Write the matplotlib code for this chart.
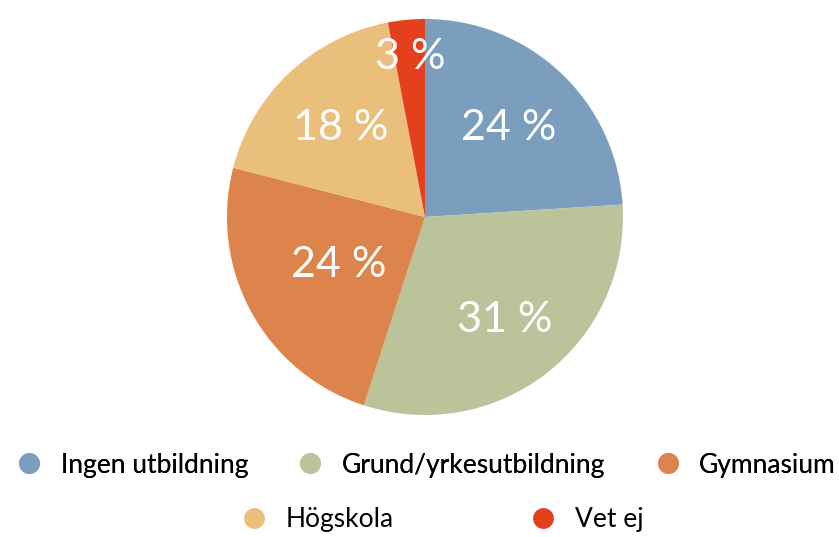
import matplotlib
matplotlib.use("Agg")
import matplotlib.pyplot as plt
from matplotlib.lines import Line2D
import numpy as np

plt.rcParams['font.family'] = ['Lato', 'DejaVu Sans']

categories = ['Ingen utbildning', 'Grund/yrkesutbildning', 'Gymnasium', 'Högskola', 'Vet ej']
shares = [24, 31, 24, 18, 3]
colors = ['#7B9EBF', '#BBC39B', '#DD834C', '#E9BF7B', '#E5401D']

# how far out each percentage label sits (fraction of radius)
label_r = [0.62, 0.66, 0.50, 0.62, 0.81]

fig = plt.figure(figsize=(8.39, 5.37), dpi=100)
R = 198
cx, cy = 425, 537 - 217
ax = fig.add_axes([(cx - R) / 839, (cy - R) / 537, 2 * R / 839, 2 * R / 537])

wedges, _ = ax.pie(shares, colors=colors, startangle=90, counterclock=False,
                   radius=1, wedgeprops=dict(linewidth=0))
ax.set_xlim(-1, 1)
ax.set_ylim(-1, 1)

for w, v, r in zip(wedges, shares, label_r):
    ang = np.deg2rad((w.theta1 + w.theta2) / 2)
    ax.text(r * np.cos(ang), r * np.sin(ang), f'{v} %', color='white',
            fontsize=31, ha='center', va='center')

handles = [Line2D([], [], marker='o', linestyle='', markersize=15,
                  markerfacecolor=c, markeredgewidth=0) for c in colors]

leg1 = fig.legend(handles[:3], categories[:3], loc='center', ncol=3,
                  bbox_to_anchor=(426 / 839, 1 - 465 / 537), frameon=False,
                  fontsize=19, handlelength=1.0, handletextpad=0.7,
                  columnspacing=1.85, borderpad=0, borderaxespad=0)
fig.add_artist(leg1)
fig.legend(handles[3:], categories[3:], loc='center', ncol=2,
           bbox_to_anchor=(442 / 839, 1 - 520 / 537), frameon=False,
           fontsize=19, handlelength=1.0, handletextpad=0.7,
           columnspacing=5.15, borderpad=0, borderaxespad=0)

fig.savefig('out.png', dpi=100)
